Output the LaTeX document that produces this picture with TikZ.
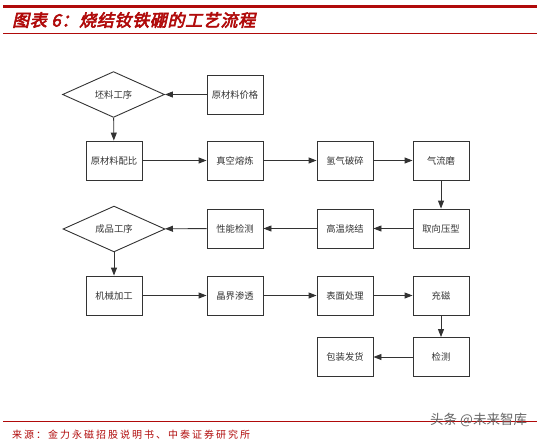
\documentclass[tikz,border=0pt]{standalone}
\usepackage{fontspec}
\usetikzlibrary{shapes.geometric,arrows.meta}
\newfontfamily\cjk{Noto Sans CJK SC}
\newfontfamily\titlefont[FakeSlant=0.22,FakeBold=3.5,LetterSpace=4]{Noto Sans CJK SC}
\newfontfamily\srcfont[LetterSpace=20]{Noto Sans CJK SC}
\definecolor{rpt}{HTML}{B00A0A}
\definecolor{ink}{HTML}{333333}
\tikzset{
  stepbox/.style={draw=ink,line width=0.9pt,minimum width=56pt,minimum height=39pt,inner sep=0pt,font=\cjk\fontsize{9.3}{10}\selectfont,text=ink},
  decision/.style={draw=ink,line width=0.9pt,diamond,minimum width=102pt,minimum height=45pt,inner sep=0pt,font=\cjk\fontsize{9.3}{10}\selectfont,text=ink},
  flow/.style={draw=ink,line width=0.9pt,-{Triangle[length=8pt,width=6pt]}},
  rule/.style={draw=rpt}
}
\begin{document}
\begin{tikzpicture}[x=1pt,y=-1pt]
\useasboundingbox (0,0) rectangle (540,442);
% header
\coordinate (t1) at (3,6.5); \coordinate (t2) at (537,6.5);
\draw[rule,line width=3pt] (t1) -- (t2);
\coordinate (h1) at (3,33.5); \coordinate (h2) at (537,33.5);
\draw[rule,line width=1pt] (h1) -- (h2);
\node[anchor=west,inner sep=0pt,text=rpt,font=\titlefont\fontsize{17}{19}\selectfont] (title) at (12,20) {图表 6：烧结钕铁硼的工艺流程};
% nodes
\node[decision] (d1) at (113.5,94.5) {坯料工序};
\node[stepbox] (price) at (235,94.5) {原材料价格};
\node[stepbox] (mix) at (114,160.5) {原材料配比};
\node[stepbox] (melt) at (235,160.5) {真空熔炼};
\node[stepbox] (hyd) at (345,160.5) {氢气破碎};
\node[stepbox] (jet) at (441,160.5) {气流磨};
\node[stepbox] (press) at (441,228.5) {取向压型};
\node[stepbox] (sinter) at (345,228.5) {高温烧结};
\node[stepbox] (perf) at (235,228.5) {性能检测};
\node[decision] (d2) at (114,229) {成品工序};
\node[stepbox] (mach) at (114,295.5) {机械加工};
\node[stepbox] (grain) at (235,295.5) {晶界渗透};
\node[stepbox] (surf) at (345,295.5) {表面处理};
\node[stepbox] (mag) at (441,295.5) {充磁};
\node[stepbox] (insp) at (441,357) {检测};
\node[stepbox] (pack) at (345,357) {包装发货};
% connectors
\draw[flow] (price) -- (d1);
\draw[flow] (d1) -- (mix);
\draw[flow] (mix) -- (melt);
\draw[flow] (melt) -- (hyd);
\draw[flow] (hyd) -- (jet);
\draw[flow] (jet) -- (press);
\draw[flow] (press) -- (sinter);
\draw[flow] (sinter) -- (perf);
\draw[flow] (perf) -- (d2);
\draw[flow] (d2) -- (mach);
\draw[flow] (mach) -- (grain);
\draw[flow] (grain) -- (surf);
\draw[flow] (surf) -- (mag);
\draw[flow] (mag) -- (insp);
\draw[flow] (insp) -- (pack);
% footer
\coordinate (f1) at (3,421); \coordinate (f2) at (537,421);
\draw[rule,line width=0.9pt] (f1) -- (f2);
\node[anchor=west,inner sep=0pt,text=rpt,font=\srcfont\fontsize{10}{12}\selectfont] (src) at (12,435) {来源：金力永磁招股说明书、中泰证券研究所};
\node[anchor=west,inner sep=0pt,text=black!60,font=\cjk\fontsize{13.5}{15}\selectfont] (wm) at (430,419.5) {头条 @未来智库};
\end{tikzpicture}
\end{document}
